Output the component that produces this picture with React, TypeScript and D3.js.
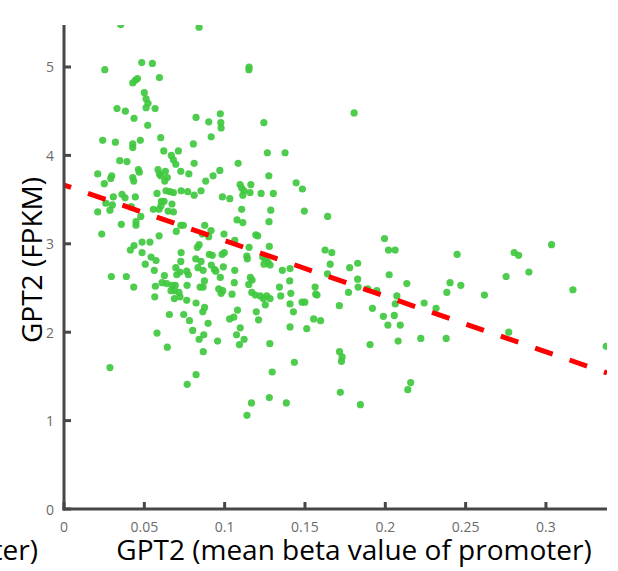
import React from "react";
import * as d3 from "d3";

const betaValues = [
  0.0353, 0.0841, 0.0484, 0.055, 0.0254, 0.1152, 0.1151, 0.0457, 0.0444, 0.0428,
  0.0594, 0.05, 0.0511, 0.0523, 0.0511, 0.0567, 0.033, 0.0382, 0.0436, 0.0521,
  0.0241, 0.032, 0.0475, 0.0428, 0.0428, 0.0602, 0.0621, 0.0712, 0.0668, 0.0681,
  0.0696, 0.0347, 0.0392, 0.0463, 0.0469, 0.0585, 0.0594, 0.0602, 0.0631, 0.0643,
  0.0627, 0.0727, 0.0777, 0.021, 0.0297, 0.0291, 0.0428, 0.0434, 0.0251, 0.0822,
  0.0901, 0.0973, 0.0976, 0.0978, 0.1244, 0.0916, 0.0805, 0.1266, 0.1376, 0.081,
  0.1084, 0.097, 0.0928, 0.1275, 0.0882, 0.1163, 0.1445, 0.1096, 0.1806, 0.1484,
  0.1496, 0.1641, 0.1995, 0.1625, 0.1667, 0.202, 0.2061, 0.2447, 0.2802, 0.283,
  0.3035, 0.1657, 0.1778, 0.1828, 0.2024, 0.1828, 0.1831, 0.2752, 0.2894, 0.2134,
  0.2403, 0.247, 0.2383, 0.3168, 0.1891, 0.1947, 0.1771, 0.1714, 0.0579, 0.0361,
  0.038, 0.0307, 0.0444, 0.026, 0.0301, 0.0286, 0.021, 0.0419, 0.0478, 0.0448,
  0.0448, 0.0357, 0.0235, 0.0635, 0.066, 0.0681, 0.0729, 0.0606, 0.0623, 0.0556,
  0.0592, 0.0604, 0.0648, 0.0681, 0.0672, 0.077, 0.0727, 0.0743, 0.0699, 0.0592,
  0.0436, 0.0413, 0.0486, 0.0535, 0.0486, 0.0542, 0.0573, 0.0506, 0.0729, 0.0727,
  0.0696, 0.0722, 0.0764, 0.0774, 0.0702, 0.0562, 0.0295, 0.0388, 0.0625, 0.061,
  0.0639, 0.0672, 0.0693, 0.0434, 0.0569, 0.0666, 0.0689, 0.0716, 0.0766, 0.0565,
  0.0687, 0.0722, 0.081, 0.0853, 0.0986, 0.1032, 0.1106, 0.1121, 0.1158, 0.1113,
  0.1227, 0.1303, 0.1106, 0.1287, 0.1077, 0.1113, 0.1276, 0.0876, 0.0915, 0.0861,
  0.0901, 0.0996, 0.1194, 0.1206, 0.1063, 0.0841, 0.083, 0.1152, 0.1278, 0.0984,
  0.0998, 0.0905, 0.0923, 0.1138, 0.1141, 0.1237, 0.1252, 0.127, 0.1245, 0.1283,
  0.082, 0.0853, 0.0834, 0.0866, 0.0917, 0.0936, 0.0945, 0.0992, 0.1063, 0.1359,
  0.1407, 0.164, 0.0973, 0.116, 0.1171, 0.0874, 0.106, 0.115, 0.0866, 0.0847,
  0.1341, 0.1405, 0.0963, 0.0988, 0.0978, 0.1046, 0.1169, 0.1191, 0.1222, 0.1241,
  0.1262, 0.1283, 0.1349, 0.1412, 0.1482, 0.1499, 0.1563, 0.1567, 0.1575, 0.0764,
  0.0822, 0.1253, 0.1407, 0.1428, 0.1511, 0.1554, 0.1597, 0.1407, 0.0656, 0.0745,
  0.0781, 0.0801, 0.0875, 0.0864, 0.0897, 0.0579, 0.0643, 0.0841, 0.087, 0.0867,
  0.0956, 0.108, 0.1031, 0.1057, 0.1097, 0.1197, 0.1211, 0.1074, 0.1121, 0.1092,
  0.1281, 0.0286, 0.0822, 0.0767, 0.1296, 0.1278, 0.1167, 0.1139, 0.1384, 0.1434,
  0.192, 0.1988, 0.2056, 0.2072, 0.2062, 0.2016, 0.2093, 0.2242, 0.2316, 0.2617,
  0.1905, 0.208, 0.2221, 0.2379, 0.2768, 0.3375, 0.1715, 0.1731, 0.1727, 0.2158,
  0.214, 0.172, 0.1845,
];

const fpkmValues = [
  5.48, 5.45, 5.05, 5.04, 4.97, 5.0, 4.97, 4.87, 4.85, 4.82,
  4.88, 4.71, 4.64, 4.59, 4.54, 4.53, 4.53, 4.5, 4.42, 4.34,
  4.17, 4.15, 4.17, 4.13, 4.09, 4.2, 4.05, 4.05, 4.0, 3.95,
  3.9, 3.94, 3.93, 3.84, 3.81, 3.84, 3.79, 3.77, 3.82, 3.75,
  3.71, 3.82, 3.79, 3.79, 3.77, 3.74, 3.75, 3.71, 3.68, 4.43,
  4.38, 4.47, 4.37, 4.31, 4.37, 4.21, 4.13, 4.03, 4.03, 3.91,
  3.91, 3.83, 3.77, 3.77, 3.71, 3.67, 3.69, 3.67, 4.48, 3.62,
  3.37, 3.31, 3.06, 2.93, 2.9, 2.93, 2.93, 2.88, 2.9, 2.87,
  2.99, 2.77, 2.73, 2.78, 2.65, 2.6, 2.51, 2.63, 2.68, 2.55,
  2.56, 2.53, 2.45, 2.48, 2.49, 2.47, 2.45, 2.3, 3.57, 3.56,
  3.52, 3.53, 3.53, 3.46, 3.44, 3.38, 3.36, 3.42, 3.31, 3.25,
  3.21, 3.22, 3.11, 3.6, 3.59, 3.58, 3.6, 3.48, 3.48, 3.39,
  3.39, 3.43, 3.37, 3.36, 3.45, 3.59, 3.21, 3.21, 3.14, 3.09,
  2.98, 2.93, 3.02, 3.02, 2.9, 2.85, 2.81, 2.77, 2.9, 2.8,
  2.73, 2.68, 2.69, 2.65, 2.65, 2.7, 2.63, 2.63, 2.64, 2.56,
  2.55, 2.53, 2.53, 2.51, 2.52, 2.47, 2.47, 2.45, 2.53, 2.4,
  2.38, 2.4, 3.55, 3.6, 3.53, 3.51, 3.63, 3.6, 3.58, 3.55,
  3.57, 3.57, 3.39, 3.38, 3.27, 3.24, 3.25, 3.21, 3.15, 3.11,
  3.08, 3.11, 3.1, 3.09, 3.04, 2.99, 2.96, 2.96, 2.97, 2.88,
  2.9, 2.88, 2.87, 2.86, 2.83, 2.85, 2.83, 2.79, 2.77, 2.76,
  2.83, 2.8, 2.73, 2.7, 2.76, 2.71, 2.69, 2.74, 2.7, 2.7,
  2.72, 2.66, 2.62, 2.62, 2.59, 2.58, 2.56, 2.54, 2.51, 2.51,
  2.51, 2.58, 2.49, 2.47, 2.44, 2.43, 2.45, 2.42, 2.41, 2.38,
  2.41, 2.38, 2.41, 2.44, 2.34, 2.34, 2.51, 2.43, 2.42, 2.36,
  2.33, 2.31, 2.32, 2.23, 2.04, 2.15, 2.13, 2.06, 2.2, 2.2,
  2.13, 2.02, 2.28, 2.23, 2.1, 1.99, 1.83, 1.92, 1.97, 1.78,
  1.9, 2.25, 2.15, 2.17, 2.05, 2.23, 2.14, 1.97, 1.92, 1.86,
  1.87, 1.6, 1.52, 1.41, 1.55, 1.26, 1.2, 1.06, 1.2, 1.66,
  2.27, 2.18, 2.19, 2.41, 2.32, 2.08, 2.08, 2.33, 2.27, 2.42,
  1.86, 1.9, 1.93, 1.93, 2.0, 1.84, 1.78, 1.72, 1.67, 1.43,
  1.35, 1.32, 1.18,
];

const xTicks = [0, 0.05, 0.1, 0.15, 0.2, 0.25, 0.3];
const xTickLabels = ["0", "0.05", "0.1", "0.15", "0.2", "0.25", "0.3"];
const yTicks = [0, 1, 2, 3, 4, 5];
const yTickLabels = ["0", "1", "2", "3", "4", "5"];
const fitIntercept = 3.665;
const fitSlope = -6.29;
const xDomain = [0, 0.338];
const yDomain = [0, 5.475];
const xTitle = "GPT2 (mean beta value of promoter)";
const yTitle = "GPT2 (FPKM)";

export default function App() {
  const W = 618;
  const H = 571;
  const left = 64;
  const right = 607;
  const top = 25;
  const bottom = 509;
  const x = d3.scaleLinear().domain(xDomain).range([left, right]);
  const y = d3.scaleLinear().domain(yDomain).range([bottom, top]);
  const pts = betaValues.map((b, i) => [b, fpkmValues[i]] as [number, number]);
  const fitLine = d3
    .line<number>()
    .x((d) => x(d))
    .y((d) => y(fitIntercept + fitSlope * d));
  const font = "'Open Sans', 'DejaVu Sans', sans-serif";
  const axisColor = "#474747";
  const tickColor = "#6b6b6b";
  return (
    <svg
      width={W}
      height={H}
      viewBox={`0 0 ${W} ${H}`}
      style={{ position: "absolute", left: 0, top: 0, background: "#fff" }}
    >
      <defs>
        <clipPath id="plotClip">
          <rect x={left} y={top} width={right - left} height={bottom - top} />
        </clipPath>
      </defs>
      <g clipPath="url(#plotClip)">
        {pts.map((p, i) => (
          <circle key={i} cx={x(p[0])} cy={y(p[1])} r={3.6} fill="#3fc83f" fillOpacity={0.92} />
        ))}
        <path
          d={fitLine(xDomain) || ""}
          fill="none"
          stroke="#ff0000"
          strokeWidth={5}
          strokeDasharray="18.5 17.9"
          strokeDashoffset={11}
        />
      </g>
      {/* axes */}
      <line x1={left} x2={left} y1={top} y2={bottom + 1.5} stroke={axisColor} strokeWidth={3} />
      <line x1={left - 1.5} x2={right} y1={bottom} y2={bottom} stroke={axisColor} strokeWidth={3} />
      {yTicks.map((t, i) => (
        <g key={"y" + i}>
          <line x1={left} x2={left + 7} y1={y(t)} y2={y(t)} stroke={axisColor} strokeWidth={3} />
          <text
            x={left - 10}
            y={y(t)}
            textAnchor="end"
            dominantBaseline="central"
            fontFamily={font}
            fontSize={14}
            fill={tickColor}
          >
            {yTickLabels[i]}
          </text>
        </g>
      ))}
      {xTicks.map((t, i) => (
        <g key={"x" + i}>
          <line x1={x(t)} x2={x(t)} y1={bottom} y2={bottom - 7} stroke={axisColor} strokeWidth={3} />
          <text
            x={x(t)}
            y={bottom + 17}
            textAnchor="middle"
            dominantBaseline="central"
            fontFamily={font}
            fontSize={14}
            fill={tickColor}
          >
            {xTickLabels[i]}
          </text>
        </g>
      ))}
      <text x={354} y={560} textAnchor="middle" fontFamily={font} fontSize={28} fill="#000">
        {xTitle}
      </text>
      <text x={38} y={560} textAnchor="end" fontFamily={font} fontSize={28} fill="#000">
        {xTitle}
      </text>
      <text
        transform={`translate(42, 260) rotate(-90)`}
        textAnchor="middle"
        fontFamily={font}
        fontSize={28}
        fill="#000"
      >
        {yTitle}
      </text>
    </svg>
  );
}
